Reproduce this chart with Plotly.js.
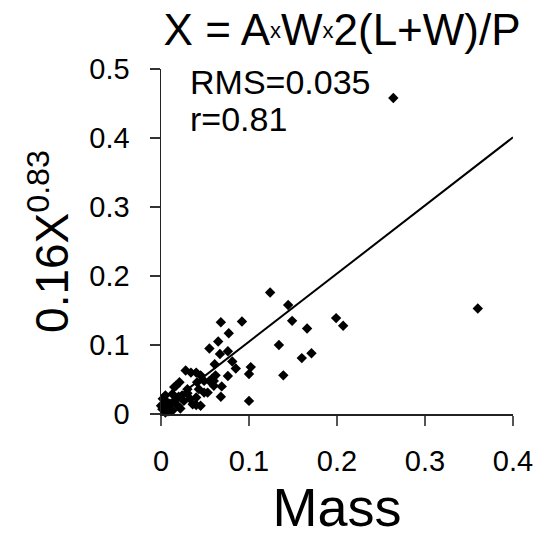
<!DOCTYPE html>
<html>
<head>
<meta charset="utf-8">
<script src="https://cdn.plot.ly/plotly-3.0.1.min.js"></script>
<style>html,body{margin:0;padding:0;background:#fff;}#chart{width:537px;height:537px;}</style>
</head>
<body>
<div id="chart"></div>
<script>
// Mass (x) vs 0.16X^0.83 (y)
const massValues = [
  0.264, 0.360, 0.124, 0.1445, 0.149, 0.092, 0.068, 0.077, 0.065, 0.055,
  0.067, 0.076, 0.061, 0.081, 0.085, 0.102, 0.100, 0.076, 0.062, 0.060,
  0.069, 0.068, 0.100, 0.134, 0.139, 0.166, 0.160, 0.171, 0.199, 0.207,
  0.028, 0.034, 0.040, 0.045, 0.058, 0.049, 0.041, 0.060, 0.021, 0.015,
  0.030, 0.043, 0.053, 0.040, 0.024, 0.013, 0.005, 0.002, 0.007, 0.015,
  0.026, 0.036, 0.045, 0.019, 0.009, 0.0015, 0.000, 0.005, 0.013, 0.055,
  0.040, 0.049, 0.017, 0.010, 0.020, 0.030, 0.008, 0.003, 0.033, 0.022
];
const predValues = [
  0.458, 0.153, 0.176, 0.158, 0.135, 0.134, 0.133, 0.117, 0.105, 0.095,
  0.087, 0.091, 0.072, 0.076, 0.066, 0.068, 0.058, 0.055, 0.056, 0.048,
  0.040, 0.025, 0.019, 0.100, 0.056, 0.124, 0.081, 0.088, 0.139, 0.128,
  0.063, 0.060, 0.060, 0.056, 0.051, 0.048, 0.046, 0.041, 0.046, 0.039,
  0.036, 0.036, 0.031, 0.024, 0.027, 0.029, 0.027, 0.022, 0.017, 0.019,
  0.019, 0.014, 0.012, 0.012, 0.010, 0.007, 0.012, 0.002, 0.005, 0.048,
  0.013, 0.031, 0.041, 0.015, 0.025, 0.030, 0.004, 0.012, 0.022, 0.008
];
// regression line endpoints
const fitX = [0, 0.4];
const fitY = [0.006, 0.401];

const xTicks = [0, 0.1, 0.2, 0.3, 0.4];
const yTicks = [0, 0.1, 0.2, 0.3, 0.4, 0.5];
const statLabels = ["RMS=0.035", "r=0.81"];

const FONT = "Liberation Sans, Arial, Helvetica, sans-serif";
const smallX = '<span style="font-size:22px;baseline-shift:7px">x</span>';

const traces = [
  {
    x: fitX, y: fitY, mode: "lines", type: "scatter",
    line: {color: "#000", width: 2}, hoverinfo: "skip", showlegend: false
  },
  {
    x: massValues, y: predValues, mode: "markers", type: "scatter",
    marker: {symbol: "diamond", size: 8, color: "#000"},
    cliponaxis: false, showlegend: false
  }
];

const layout = {
  width: 537, height: 537,
  margin: {l: 161, r: 24, t: 69, b: 123},
  paper_bgcolor: "#fff", plot_bgcolor: "#fff",
  font: {family: FONT, color: "#000"},
  showlegend: false,
  title: {
    text: 'X = A' + smallX + 'W' + smallX + '2(L+W)/P',
    font: {size: 44, family: FONT, color: "#000"},
    xref: "container", x: 0.637, xanchor: "center",
    yref: "container", y: 0.944, yanchor: "middle"
  },
  xaxis: {
    range: [0, 0.4], tickvals: xTicks, ticktext: xTicks.map(String),
    showgrid: false, zeroline: false,
    showline: true, linecolor: "#222", linewidth: 1.5,
    ticks: "outside", ticklen: 10, tickcolor: "#555", tickwidth: 1.5,
    tickfont: {size: 29, family: FONT, color: "#000"},
    ticklabelstandoff: 11,
    title: {text: "Mass", font: {size: 54, family: FONT, color: "#000"}, standoff: 8},
    automargin: "bottom", fixedrange: true
  },
  yaxis: {
    range: [0, 0.5], tickvals: yTicks, ticktext: yTicks.map(String),
    showgrid: false, zeroline: false,
    showline: true, linecolor: "#222", linewidth: 1.5,
    ticks: "outside", ticklen: 10, tickcolor: "#333", tickwidth: 1.5,
    tickfont: {size: 29, family: FONT, color: "#000"},
    ticklabelstandoff: 14,
    title: {text: "0.16X<sup>0.83</sup>", font: {size: 46, family: FONT, color: "#000"}, standoff: 6},
    automargin: false, fixedrange: true
  },
  annotations: [
    {text: statLabels[0], xref: "paper", yref: "paper", x: 0.077, y: 0.962,
     xanchor: "left", yanchor: "middle", showarrow: false,
     font: {size: 34, family: FONT, color: "#000"}},
    {text: statLabels[1], xref: "paper", yref: "paper", x: 0.077, y: 0.855,
     xanchor: "left", yanchor: "middle", showarrow: false,
     font: {size: 34, family: FONT, color: "#000"}}
  ]
};

Plotly.newPlot("chart", traces, layout, {displayModeBar: false, staticPlot: true});
</script>
</body>
</html>
